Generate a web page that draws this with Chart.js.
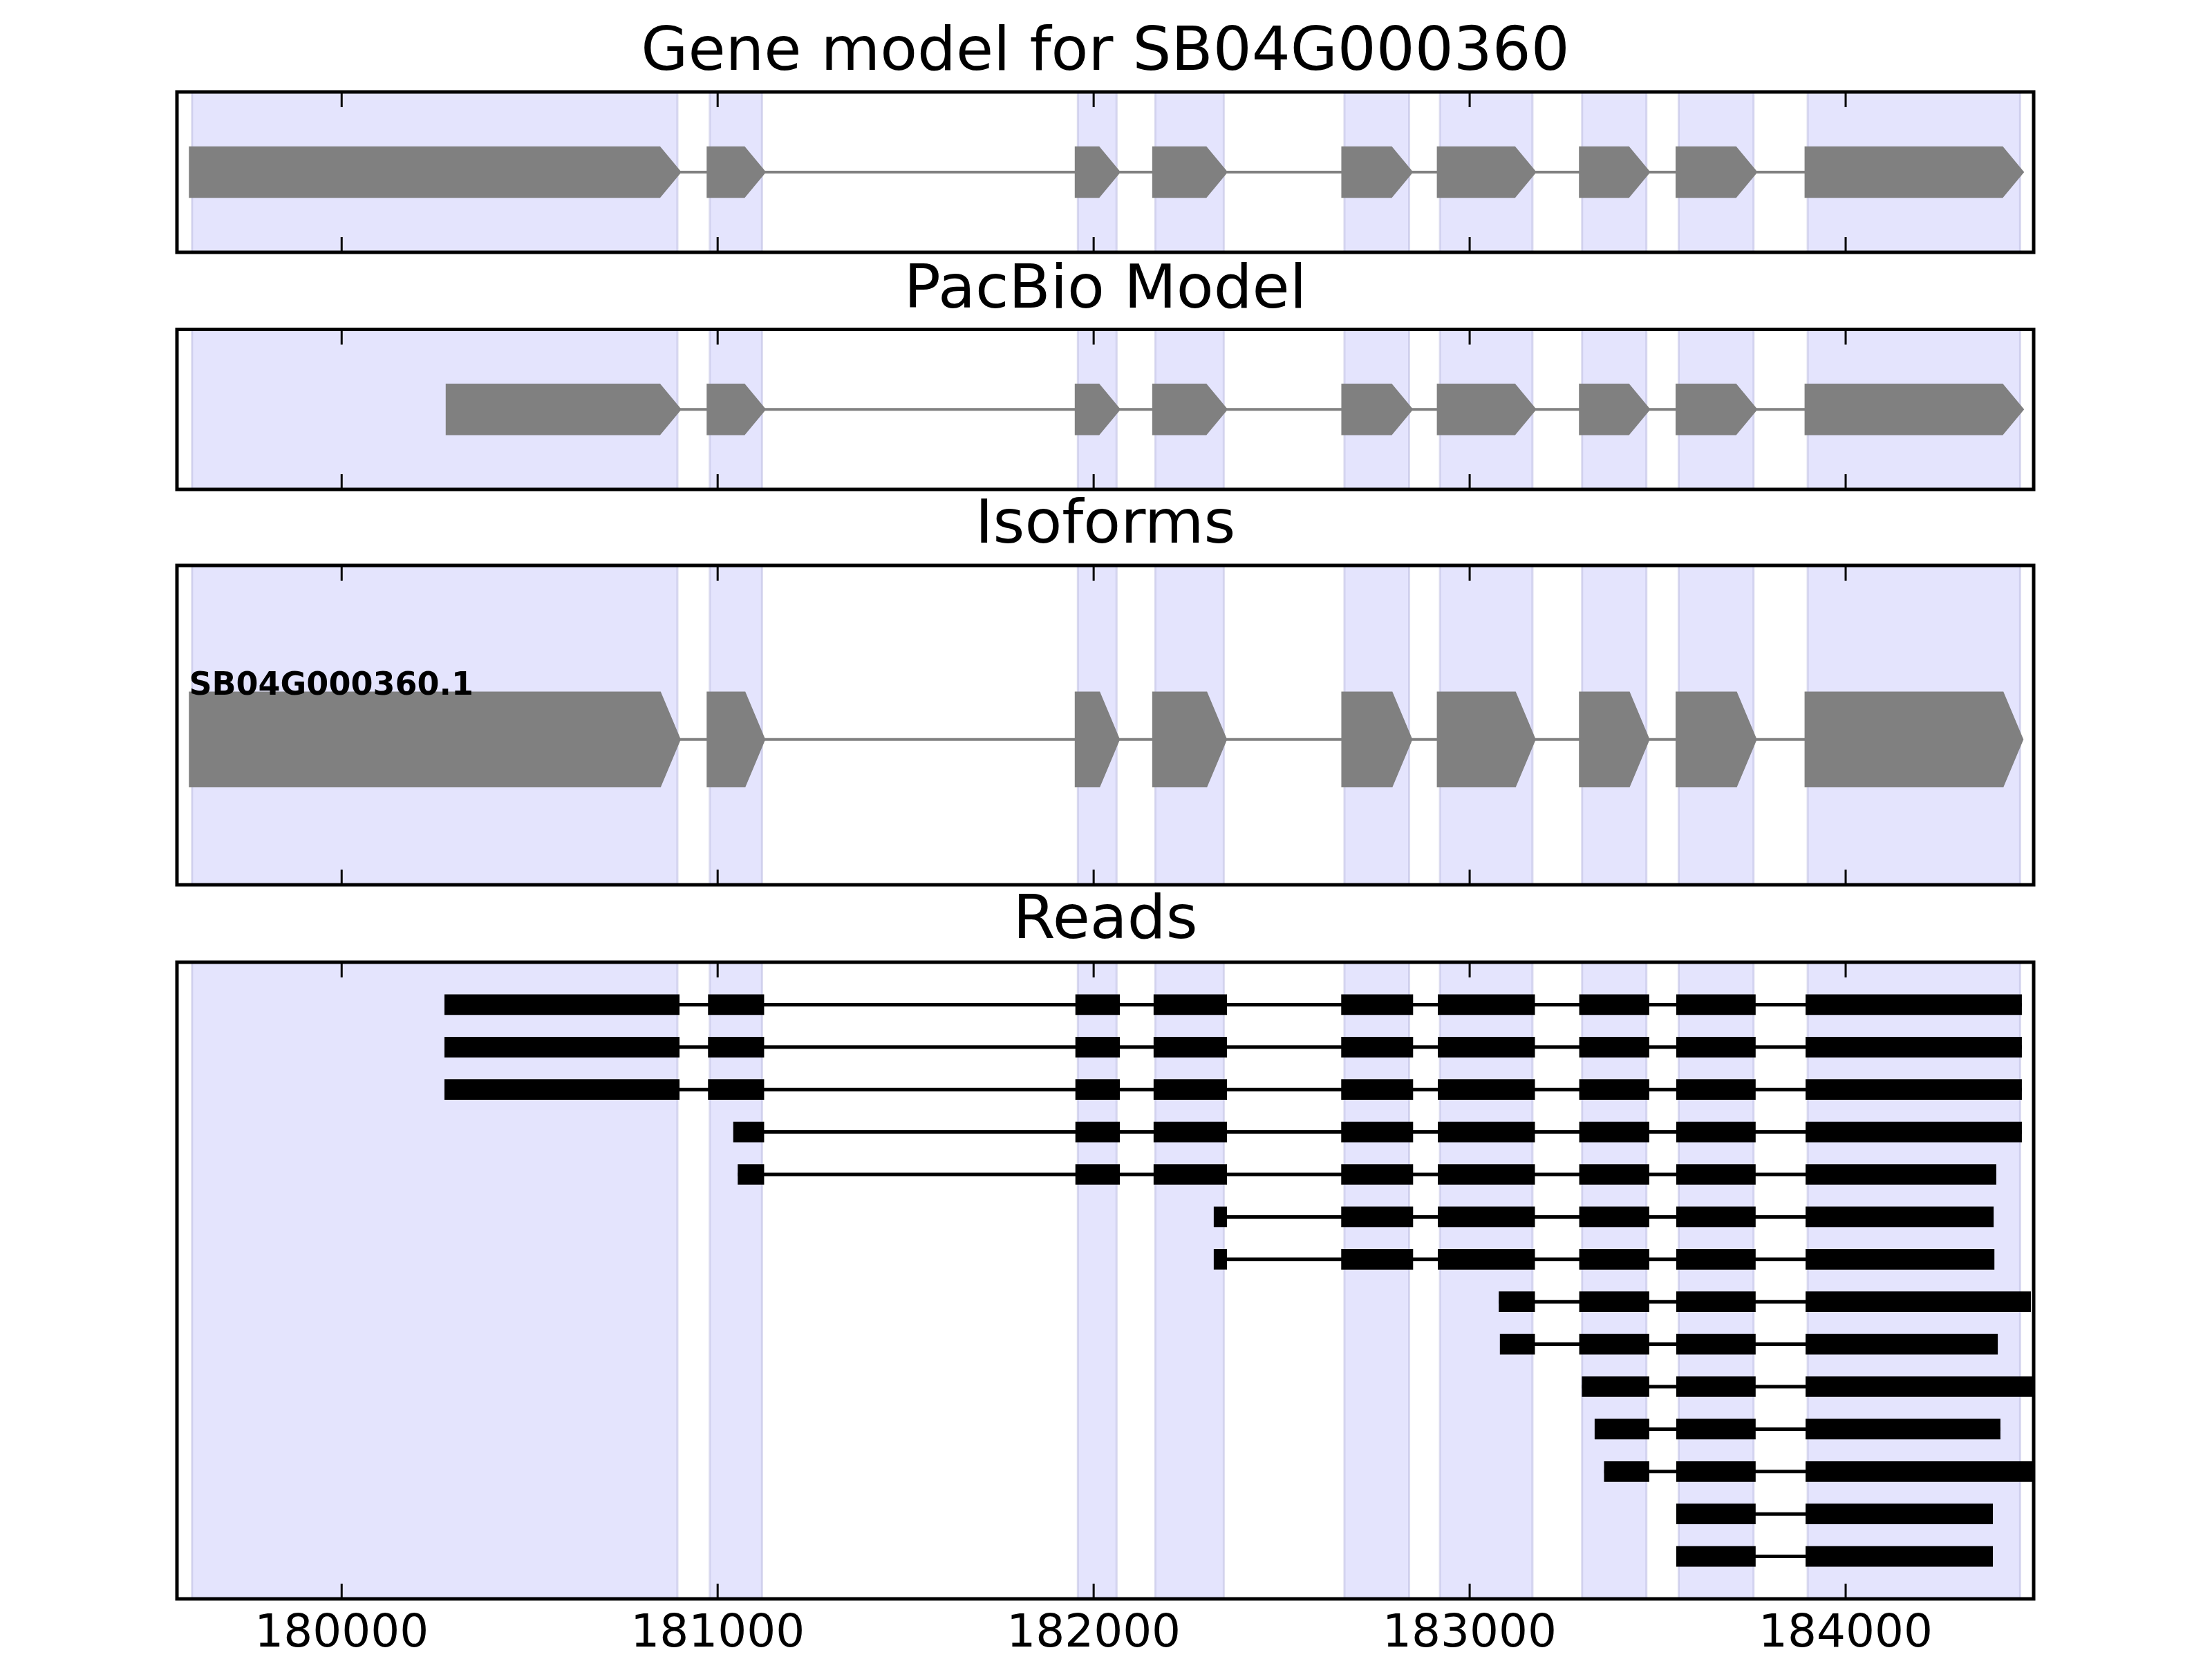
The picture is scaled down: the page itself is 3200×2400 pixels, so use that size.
<!DOCTYPE html>
<html>
<head>
<meta charset="utf-8">
<title>Gene model for SB04G000360</title>
<script src="https://cdn.jsdelivr.net/npm/chart.js@4.4.1/dist/chart.umd.min.js"></script>
<style>
  html, body { margin: 0; padding: 0; background: #fff; }
  body { width: 3200px; height: 2400px; position: relative; overflow: hidden; }
  canvas { position: absolute; left: 0; }
</style>
</head>
<body>
<canvas id="gene-chart"></canvas>
<canvas id="pacbio-chart"></canvas>
<canvas id="isoform-chart"></canvas>
<canvas id="reads-chart"></canvas>
<script>
// Genomic window and axis ticks
const X_MIN = 179562;
const X_MAX = 184500;
const tickValues = [180000, 181000, 182000, 183000, 184000];

// Annotated gene model exons (also used for the shaded bands)
const geneExonStarts = [179602, 180979, 181958, 182164, 182667, 182921, 183299, 183556, 183899];
const geneExonEnds = [180893, 181118, 182061, 182346, 182839, 183167, 183470, 183755, 184464];

// PacBio model exons
const pacbioExonStarts = [180285, 180979, 181958, 182164, 182667, 182921, 183299, 183556, 183899];
const pacbioExonEnds = [180893, 181118, 182061, 182346, 182839, 183167, 183470, 183755, 184464];

// Isoform exons
const isoformName = 'SB04G000360.1';
const isoformExonStarts = [179602, 180979, 181958, 182164, 182667, 182921, 183299, 183556, 183899];
const isoformExonEnds = [180893, 181118, 182061, 182346, 182839, 183167, 183470, 183755, 184464];

// Reads: span of each read, plus the exon blocks they share
const readStarts = [180274, 180274, 180274, 181042, 181054, 182320, 182320, 183078, 183081, 183299, 183333, 183358, 183550, 183550];
const readEnds = [184468, 184468, 184468, 184468, 184400, 184393, 184395, 184492, 184404, 184540, 184411, 184540, 184391, 184391];
const readExonStarts = [180274, 180975, 181952, 182160, 182659, 182916, 183292, 183550, 183894];
const readExonEnds = [180898, 181123, 182069, 182354, 182849, 183173, 183477, 183760, 184468];

// Style / layout constants
const PAGE_WIDTH = 3200;
const PANEL_LEFT = 256;
const PANEL_RIGHT = 2942;
const TITLE_SIZE = 88;
const TICK_SIZE = 66;
const HEAD_LEN = 50;
const SHADE_FILL = '#e4e4fd';
const SHADE_EDGE = 'rgba(190, 190, 225, 0.55)';
const GENE_GRAY = '#808080';

Chart.defaults.font.family = '"DejaVu Sans", sans-serif';
Chart.defaults.color = '#000';

const framePlugin = {
    id: 'frame',
    afterDraw(chart) {
        const { ctx, chartArea: a, scales: { x } } = chart;
        ctx.save();
        ctx.strokeStyle = '#000';
        ctx.lineWidth = 3;
        ctx.beginPath();
        tickValues.forEach(v => {
            const px = x.getPixelForValue(v);
            ctx.moveTo(px, a.top);
            ctx.lineTo(px, a.top + 22);
            ctx.moveTo(px, a.bottom);
            ctx.lineTo(px, a.bottom - 22);
        });
        ctx.stroke();
        ctx.lineWidth = 5;
        ctx.strokeRect(a.left, a.top, a.right - a.left, a.bottom - a.top);
        ctx.restore();
    }
};

const isoLabelPlugin = {
    id: 'isoLabel',
    afterDatasetsDraw(chart, args, opts) {
        if (!opts || !opts.text) return;
        const { ctx, scales: { x, y } } = chart;
        ctx.save();
        ctx.font = 'bold 46px "DejaVu Sans"';
        ctx.fillStyle = '#000';
        ctx.textAlign = 'left';
        ctx.textBaseline = 'alphabetic';
        ctx.fillText(opts.text, x.getPixelForValue(opts.x), y.getPixelForValue(opts.y));
        ctx.restore();
    }
};

function polygon(points, fillColor, borderColor, borderWidth, order) {
    return {
        type: 'line',
        data: points,
        fill: 'shape',
        backgroundColor: fillColor,
        borderColor,
        borderWidth,
        borderJoinStyle: 'miter',
        borderCapStyle: 'square',
        pointRadius: 0,
        tension: 0,
        clip: 0,
        order
    };
}

function shadeDatasets(yLow, yHigh) {
    return geneExonStarts.map((s, i) => {
        const e = geneExonEnds[i];
        return polygon([
            { x: s, y: yLow }, { x: e, y: yLow }, { x: e, y: yHigh }, { x: s, y: yHigh }, { x: s, y: yLow }
        ], SHADE_FILL, SHADE_EDGE, 3, 5);
    });
}

function arrowDatasets(starts, ends, center, half) {
    return starts.map((s, i) => {
        const e = ends[i];
        const neck = Math.max(s, e - HEAD_LEN);
        return polygon([
            { x: s, y: center - half }, { x: neck, y: center - half }, { x: e, y: center },
            { x: neck, y: center + half }, { x: s, y: center + half }, { x: s, y: center - half }
        ], GENE_GRAY, GENE_GRAY, 9, 1);
    });
}

function intronLine(start, end, y, color, width) {
    return {
        type: 'line',
        data: [{ x: start, y }, { x: end, y }],
        borderColor: color,
        borderWidth: width,
        pointRadius: 0,
        fill: false,
        clip: 0,
        order: 3
    };
}

function geneModelDatasets(starts, ends, center, half) {
    return [
        ...shadeDatasets(-0.1, 1.1),
        intronLine(starts[0], ends[ends.length - 1], center, GENE_GRAY, 4),
        ...arrowDatasets(starts, ends, center, half)
    ];
}

function readDatasets() {
    const blocks = [];
    const lines = [];
    readStarts.forEach((start, row) => {
        const end = readEnds[row];
        lines.push(intronLine(start, end, row, '#000', 5));
        readExonStarts.forEach((es, k) => {
            const ee = readExonEnds[k];
            const isLast = k === readExonStarts.length - 1;
            if (ee <= start || es >= end) return;
            blocks.push({ x: [Math.max(es, start), isLast ? end : Math.min(ee, end)], y: row });
        });
    });
    return [
        ...shadeDatasets(-2, 15),
        ...lines,
        {
            type: 'bar',
            indexAxis: 'y',
            data: blocks,
            backgroundColor: '#000',
            borderWidth: 0,
            barThickness: 29,
            grouped: false,
            clip: 0,
            order: 1
        }
    ];
}

function makePanel(canvasId, spec) {
    const canvas = document.getElementById(canvasId);
    // title text is drawn centred on its line box: baseline ~0.946em below the box top
    const canvasTop = Math.round(spec.titleBaseline - TITLE_SIZE * 0.946);
    const titlePadBottom = spec.top - canvasTop - TITLE_SIZE * 1.2;
    const axisHeight = spec.showTicks ? 2400 - spec.bottom : 0;
    const bottomPad = spec.showTicks ? 0 : 8;
    canvas.width = PAGE_WIDTH;
    canvas.height = Math.round(spec.bottom - canvasTop + axisHeight + bottomPad);
    canvas.style.top = canvasTop + 'px';
    canvas.style.width = PAGE_WIDTH + 'px';
    canvas.style.height = canvas.height + 'px';

    return new Chart(canvas, {
        type: 'line',
        data: { datasets: spec.datasets },
        plugins: [framePlugin, isoLabelPlugin],
        options: {
            responsive: false,
            animation: false,
            devicePixelRatio: 1,
            events: [],
            layout: {
                padding: { left: PANEL_LEFT, right: PAGE_WIDTH - PANEL_RIGHT, top: 0, bottom: bottomPad }
            },
            plugins: {
                legend: { display: false },
                tooltip: { enabled: false },
                title: {
                    display: true,
                    text: spec.title,
                    color: '#000',
                    font: { size: TITLE_SIZE, weight: 'normal', lineHeight: 1.2 },
                    padding: { top: 0, bottom: titlePadBottom }
                },
                isoLabel: spec.label || {}
            },
            scales: {
                x: {
                    type: 'linear',
                    min: X_MIN,
                    max: X_MAX,
                    offset: false,
                    display: !!spec.showTicks,
                    grid: { display: false, drawTicks: false },
                    border: { display: false },
                    afterBuildTicks: scale => {
                        scale.ticks = tickValues.map(value => ({ value }));
                    },
                    afterFit: scale => {
                        scale.height = axisHeight;
                    },
                    ticks: {
                        autoSkip: false,
                        maxRotation: 0,
                        padding: 12.6,
                        color: '#000',
                        font: { size: TICK_SIZE, lineHeight: 1.2 },
                        callback: value => String(value)
                    }
                },
                y: {
                    type: 'linear',
                    min: spec.yMin,
                    max: spec.yMax,
                    reverse: !!spec.reverse,
                    offset: false,
                    display: false
                }
            }
        }
    });
}

makePanel('gene-chart', {
    title: 'Gene model for SB04G000360',
    titleBaseline: 108, top: 133, bottom: 365,
    yMin: 0, yMax: 1,
    datasets: geneModelDatasets(geneExonStarts, geneExonEnds, 0.5, 0.141)
});

makePanel('pacbio-chart', {
    title: 'PacBio Model',
    titleBaseline: 452, top: 476.5, bottom: 707.5,
    yMin: 0, yMax: 1,
    datasets: geneModelDatasets(pacbioExonStarts, pacbioExonEnds, 0.5, 0.141)
});

makePanel('isoform-chart', {
    title: 'Isoforms',
    titleBaseline: 792, top: 818, bottom: 1280,
    yMin: 0, yMax: 1,
    label: { text: isoformName, x: 179594, y: 0.595 },
    datasets: geneModelDatasets(isoformExonStarts, isoformExonEnds, 0.455, 0.140)
});

makePanel('reads-chart', {
    title: 'Reads',
    titleBaseline: 1364, top: 1392, bottom: 2313,
    yMin: -1, yMax: 14, reverse: true,
    showTicks: true,
    datasets: readDatasets()
});
</script>
</body>
</html>
